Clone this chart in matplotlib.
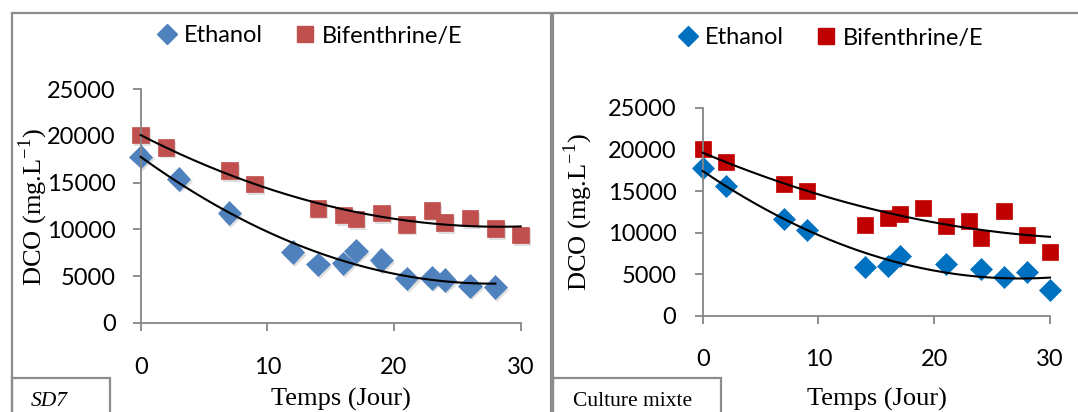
import numpy as np
import matplotlib
matplotlib.use('Agg')
import matplotlib.pyplot as plt
import matplotlib.patheffects as pe
from matplotlib.lines import Line2D
from matplotlib.patches import Rectangle

# Days of sampling and COD values (mg/L) for each culture
days_sd7_eth = [0, 3, 7, 12, 14, 16, 17, 19, 21, 23, 24, 26, 28]
dco_sd7_eth = [17800, 15400, 11750, 7550, 6250, 6350, 7700, 6700, 4750, 4800, 4600, 3950, 3800]
days_sd7_bif = [0, 2, 7, 9, 14, 16, 17, 19, 21, 23, 24, 26, 28, 30]
dco_sd7_bif = [20100, 18800, 16300, 14850, 12250, 11550, 11100, 11750, 10550, 12050, 10700, 11200, 10100, 9400]

days_mix_eth = [0, 2, 7, 9, 14, 16, 17, 21, 24, 26, 28, 30]
dco_mix_eth = [17800, 15600, 11600, 10300, 5900, 6000, 7200, 6200, 5600, 4700, 5250, 3100]
days_mix_bif = [0, 2, 7, 9, 14, 16, 17, 19, 21, 23, 24, 26, 28, 30]
dco_mix_bif = [20050, 18500, 15900, 15000, 10900, 11800, 12300, 13000, 10850, 11400, 9400, 12650, 9700, 7650]

x_ticks = [0, 10, 20, 30]
y_ticks = [0, 5000, 10000, 15000, 20000, 25000]

W, H = 1078, 412
SANS = 'Lato'
SERIF = 'Liberation Serif'
AXIS_GRAY = '#868686'
FRAME_GRAY = '#8c8c8c'

plt.rcParams['mathtext.fontset'] = 'custom'
plt.rcParams['mathtext.rm'] = SERIF
plt.rcParams['axes.unicode_minus'] = False

fig = plt.figure(figsize=(W / 100, H / 100), dpi=100, facecolor='white')


def px(x, y):
    """pixel position -> figure fraction"""
    return x / W, 1 - y / H


def panel(rect, series, tick_pad_x, tick_pad_y, shadow):
    ax = fig.add_axes(rect)
    for days, vals, marker, color, ms in series:
        effects = []
        if shadow:
            effects = [pe.SimplePatchShadow(offset=(1.5, -2), alpha=0.25, shadow_rgbFace='#808080'),
                       pe.Normal()]
        ax.plot(days, vals, linestyle='none', marker=marker, ms=ms,
                markerfacecolor=color, markeredgecolor=color, markeredgewidth=0.5,
                path_effects=effects, zorder=2, clip_on=False)
    # second order polynomial trend lines
    for days, vals, *_ in series:
        coef = np.polyfit(days, vals, 2)
        xs = np.linspace(min(days), max(days), 200)
        ax.plot(xs, np.polyval(coef, xs), color='black', lw=1.5, zorder=3, clip_on=False)

    ax.set_xlim(0, 30)
    ax.set_ylim(0, 25000)
    ax.set_xticks(x_ticks)
    ax.set_yticks(y_ticks)
    for side in ['top', 'right']:
        ax.spines[side].set_visible(False)
    for side in ['left', 'bottom']:
        ax.spines[side].set_color(AXIS_GRAY)
        ax.spines[side].set_linewidth(1.3)
    ax.tick_params(axis='both', direction='out', length=6, width=1.3, color=AXIS_GRAY,
                   labelsize=17, labelcolor='black')
    ax.tick_params(axis='x', pad=tick_pad_x)
    ax.tick_params(axis='y', pad=tick_pad_y)
    for lab in ax.get_xticklabels() + ax.get_yticklabels():
        lab.set_fontfamily(SANS)
    ax.patch.set_alpha(0)
    return ax


def frame(x0, x1, box_x1, label, label_x, italic):
    y0 = 13.3
    fig.patches.append(Rectangle(px(x0, H + 5), (x1 - x0) / W, (H + 5 - y0) / H,
                                 transform=fig.transFigure, fill=False,
                                 edgecolor=FRAME_GRAY, lw=1.6))
    fig.patches.append(Rectangle(px(x0, H + 5), (box_x1 - x0) / W, (H + 5 - 377.5) / H,
                                 transform=fig.transFigure, fill=False,
                                 edgecolor=FRAME_GRAY, lw=1.6))
    fig.text(*px(label_x, 406), label, family=SERIF, fontsize=15.5,
             style='italic' if italic else 'normal', ha='left', va='baseline')


def legend(ax, cx, cy, eth_color, bif_color):
    handles = [Line2D([], [], linestyle='none', marker='D', ms=10.5, color=eth_color),
               Line2D([], [], linestyle='none', marker='s', ms=12, color=bif_color)]
    fig.legend(handles, ['Ethanol', 'Bifenthrine/E'], loc='center', ncol=2,
               bbox_to_anchor=px(cx, cy), frameon=False,
               prop={'family': SANS, 'size': 17}, handlelength=0.8,
               handletextpad=0.3, columnspacing=1.4, borderaxespad=0)


# SD7 panel
frame(11.7, 550.7, 110, 'SD7', 31, True)
ax1 = panel([140.7 / W, 1 - 322.7 / H, 380 / W, 233.4 / H],
            [(days_sd7_eth, dco_sd7_eth, 'D', '#4F81BD', 12),
             (days_sd7_bif, dco_sd7_bif, 's', '#C0504D', 12)],
            tick_pad_x=19, tick_pad_y=12, shadow=True)
legend(ax1, 310, 36, '#4F81BD', '#C0504D')
fig.text(*px(33, 207), 'DCO (mg.L$^{\\mathregular{-1}}$)', family=SERIF, fontsize=19,
         rotation=90, ha='center', va='center')
fig.text(*px(341, 406), 'Temps (Jour)', family=SERIF, fontsize=19, ha='center', va='baseline')

# mixed culture panel
frame(553, 1090, 721, 'Culture mixte', 573, False)
ax2 = panel([702.7 / W, 1 - 316 / H, 347.3 / W, 208.3 / H],
            [(days_mix_eth, dco_mix_eth, 'D', '#0070C0', 11),
             (days_mix_bif, dco_mix_bif, 's', '#C00000', 11)],
            tick_pad_x=18, tick_pad_y=13, shadow=False)
legend(ax2, 831, 38, '#0070C0', '#C00000')
fig.text(*px(578.6, 212), 'DCO (mg.L$^{\\mathregular{-1}}$)', family=SERIF, fontsize=19,
         rotation=90, ha='center', va='center')
fig.text(*px(876.5, 406), 'Temps (Jour)', family=SERIF, fontsize=19, ha='center', va='baseline')

fig.savefig('out.png', dpi=100, facecolor='white')
